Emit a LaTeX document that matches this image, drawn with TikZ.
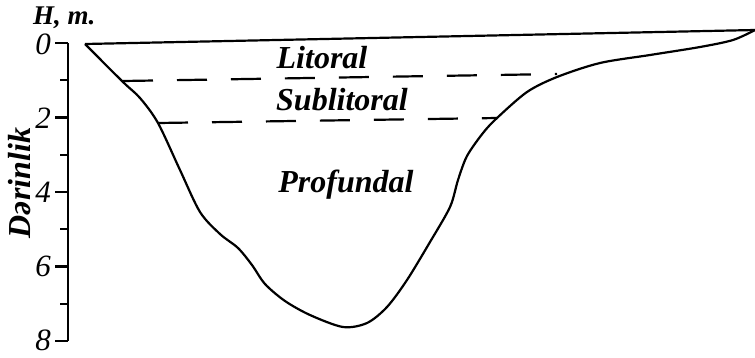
\documentclass[tikz,border=0pt]{standalone}
\usepackage{fontspec}
\setmainfont{Liberation Serif}
\tikzset{
  zone/.style={font=\fontsize{32}{38}\selectfont\bfseries\itshape, inner sep=0pt, anchor=base},
  depthnum/.style={font=\fontsize{31}{36}\selectfont\itshape, inner sep=0pt, anchor=east},
  level/.style={dash pattern=on 30pt off 24pt},
}
\begin{document}
\begin{tikzpicture}[x=1pt, y=-1pt, line width=2.2pt]
  \useasboundingbox (0,0) rectangle (755,357);
  % 1. depth axis with ticks
  \draw (68,43) -- (68,341);
  \foreach \d in {0,2,4,6,8} {
    \draw (55,{43+37.25*\d}) -- (68,{43+37.25*\d});
    \node[depthnum] (num\d) at (52,{44+37*\d}) {\d};
  }
  \foreach \d in {1,3,5,7}
    \draw (60,{43+37.25*\d}) -- (68,{43+37.25*\d});
  \node[zone, anchor=base west, font=\fontsize{27}{32}\selectfont\bfseries\itshape] (unit) at (32,24) {H, m.};
  \node[zone, anchor=center, rotate=90] (depth) at (20,183) {Dərinlik};

  % 2. water surface and lake bed
  \coordinate (shoreL) at (85,44);
  \coordinate (shoreR) at (755,30);
  \draw (shoreL) -- (shoreR);
  \draw plot[smooth, tension=0.5] coordinates {
    (85,44) (123,82) (140,98) (158,123) (180,170) (200,212)
    (220,234) (238,248) (252,265) (265,284) (285,301) (310,315)
    (343,327) (367,323) (387,307) (407,280) (430,242) (450,207)
    (458,180) (467,156) (483,133) (497,118) (527,92) (557,77)
    (600,63) (650,55) (700,47) (733,40) (755,30)};

  % 3. zone boundaries
  \coordinate (litL) at (123,81);
  \coordinate (litR) at (557,74);
  \coordinate (subL) at (158,123);
  \coordinate (subR) at (497,118);
  \draw[level] (litL) -- (litR);
  \draw[level] (subL) -- (subR);

  % 4. zone names
  \node[zone] (lit) at (322,68) {Litoral};
  \node[zone] (sub) at (342,110) {Sublitoral};
  \node[zone] (prof) at (346,192) {Profundal};
\end{tikzpicture}
\end{document}
